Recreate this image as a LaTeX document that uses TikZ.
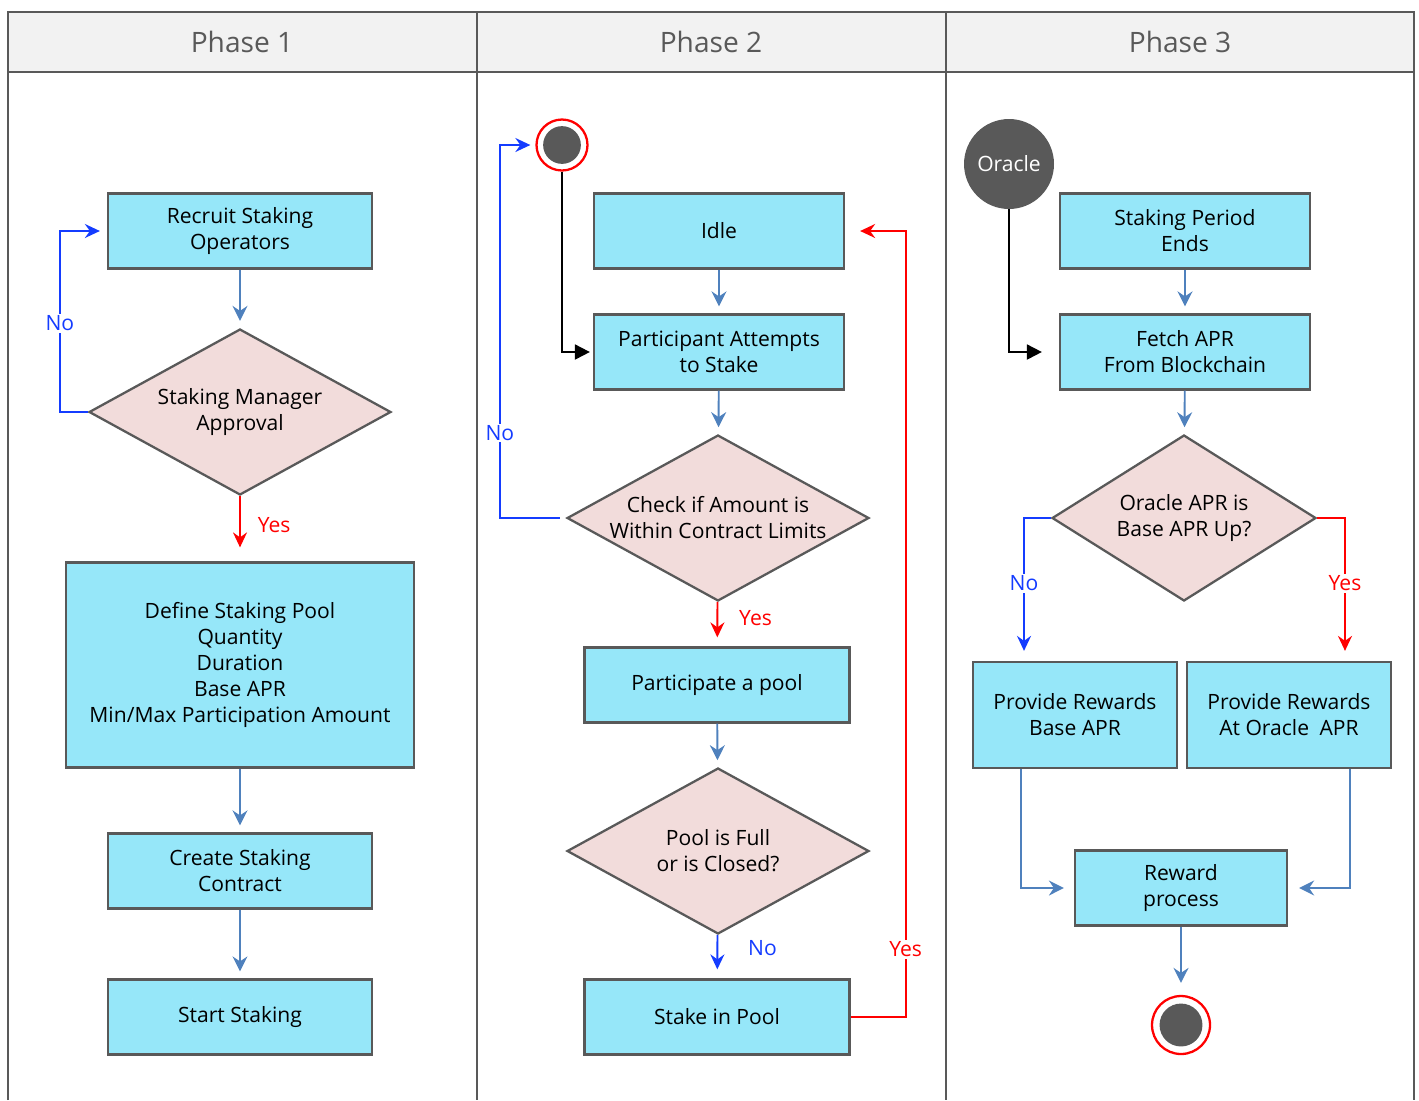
\documentclass[tikz,border=0pt]{standalone}
\usepackage{fontspec}
\setmainfont{Open Sans}
\usetikzlibrary{arrows.meta,shapes.geometric}

\definecolor{boxcyan}{RGB}{150,231,249}
\definecolor{decpink}{RGB}{242,220,219}
\definecolor{linegray}{RGB}{89,89,89}
\definecolor{headgray}{RGB}{242,242,242}
\definecolor{flowblue}{RGB}{79,129,189}
\definecolor{noblue}{RGB}{20,60,255}
\definecolor{yesred}{RGB}{255,0,0}

\tikzset{
	frame/.style={draw=linegray, line width=1.4pt},
	phase/.style={text=linegray, font=\fontsize{16}{19}\selectfont},
	box/.style={draw=linegray, fill=boxcyan, line width=1.3pt, align=center, inner sep=0pt, minimum height=1.5cm},
	decide/.style={diamond, draw=linegray, fill=decpink, line width=1.3pt, align=center, inner sep=0pt, aspect=1.82, minimum width=6.04cm, minimum height=3.32cm},
	flow/.style={draw=flowblue, line width=1.1pt, -{Stealth[length=0.3cm,width=0.3cm,inset=0.1cm]}, shorten >=0.14cm},
	noflow/.style={draw=noblue, line width=1.1pt, -{Stealth[length=0.3cm,width=0.28cm,inset=0.1cm]}},
	yesflow/.style={draw=yesred, line width=1.1pt, -{Stealth[length=0.3cm,width=0.28cm,inset=0.1cm]}},
	entry/.style={draw=black, line width=1.1pt, -{Triangle[length=0.3cm,width=0.3cm]}},
	nolbl/.style={text=noblue, fill=white, inner sep=1pt},
	yeslbl/.style={text=yesred, fill=white, inner sep=1pt},
	ring/.style={circle, draw=yesred, line width=1.3pt, fill=white, inner sep=0pt, minimum size=#1,
		path picture={\fill[linegray] (path picture bounding box.center) circle (0.37*#1);}},
	actor/.style={circle, fill=linegray, text=white, inner sep=0pt, minimum size=1.8cm},
}

\begin{document}
\begin{tikzpicture}[x=0.02cm, y=-0.02cm, font=\fontsize{12}{14.8}\selectfont]
		%%%%% START %%%%%
		\useasboundingbox (0,0) rectangle (1419,1100);
		
		% swimlanes
		\fill[headgray] (8,12) rectangle (1414,72);
		\draw[frame] (8,1100) -- (8,12) -- (1414,12) -- (1414,1100);
		\draw[frame] (8,72) -- (1414,72);
		\draw[frame] (477,12) -- (477,1100);
		\draw[frame] (946,12) -- (946,1100);
		\node[phase] (ph1) at (242,42) {Phase 1};
		\node[phase] (ph2) at (711,42) {Phase 2};
		\node[phase] (ph3) at (1180,42) {Phase 3};
		
		% phase 1
		\node[box, minimum width=5.28cm] (recruit) at (240,231) {Recruit Staking\\Operators};
		\node[decide] (approval) at (240,412) {Staking Manager\\Approval};
		\node[box, minimum width=6.96cm, minimum height=4.1cm] (define) at (240,665)
			{Define Staking Pool\\Quantity\\Duration\\Base APR\\Min/Max Participation Amount};
		\node[box, minimum width=5.28cm] (contract) at (240,871) {Create Staking\\Contract};
		\node[box, minimum width=5.28cm] (startstk) at (240,1017) {Start Staking};
		
		\draw[flow] (recruit) -- (approval);
		\draw[noflow, shorten >=0.14cm] (approval.west) -- ++(-28,0) |- node[nolbl, pos=0.245] {No} (recruit.west);
		\draw[yesflow, shorten >=0.28cm] (approval) -- node[text=yesred, right=0.22cm, pos=0.44] {Yes} (define);
		\draw[flow] (define) -- (contract);
		\draw[flow] (contract) -- (startstk);
		
		% phase 2
		\node[ring=1.02cm] (start) at (562,145) {};
		\node[box, minimum width=5cm] (idle) at (719,231) {Idle};
		\node[box, minimum width=5cm] (attempt) at (719,352) {Participant Attempts\\to Stake};
		\node[decide] (limits) at (718,518) {Check if Amount is\\Within Contract Limits};
		\node[box, minimum width=5.3cm] (pool) at (717,685) {Participate a pool};
		\node[decide] (full) at (718,851) {Pool is Full\\or is Closed?};
		\node[box, minimum width=5.3cm] (stake) at (717,1017) {Stake in Pool};
		
		\draw[entry, shorten >=0.06cm] (start.south) |- (attempt.west);
		\draw[flow] (idle) -- (attempt);
		\draw[flow] (attempt) -- (limits);
		\draw[noflow, shorten <=0.12cm, shorten >=0.1cm] (limits.west) -- ++(-66,0) |- node[nolbl, pos=0.114] {No} (start.west);
		\draw[yesflow, shorten >=0.18cm] (limits) -- node[text=yesred, right=0.3cm, pos=0.37] {Yes} (pool);
		\draw[flow] (pool) -- (full);
		\draw[noflow, shorten >=0.18cm] (full) -- node[text=noblue, right=0.48cm, pos=0.3] {No} (stake);
		\draw[yesflow, shorten >=0.3cm] (stake.east) -- ++(55,0) |- node[yeslbl, pos=0.043] {Yes} (idle.east);
		
		% phase 3
		\node[actor] (oracle) at (1009,164) {Oracle};
		\node[box, minimum width=5cm] (ends) at (1185,231) {Staking Period\\Ends};
		\node[box, minimum width=5cm] (fetch) at (1185,352) {Fetch APR\\From Blockchain};
		\node[decide, aspect=1.59, minimum width=5.28cm] (compare) at (1184,518) {Oracle APR is\\Base APR Up?};
		\node[box, minimum width=4.08cm, minimum height=2.12cm] (baseapr) at (1075,715) {Provide Rewards\\Base APR};
		\node[box, minimum width=4.08cm, minimum height=2.12cm] (oracleapr) at (1289,715) {Provide Rewards\\At Oracle\enspace APR};
		\node[box, minimum width=4.24cm] (reward) at (1181,888) {Reward\\process};
		\node[ring=1.16cm] (finish) at (1181,1025) {};
		
		\draw[entry, shorten >=0.34cm] (oracle.south) |- (fetch.west);
		\draw[flow] (ends) -- (fetch);
		\draw[flow] (fetch) -- (compare);
		\draw[noflow, shorten >=0.2cm] (compare.west) -| node[nolbl, pos=0.729] {No} ([xshift=-1.02cm]baseapr.north);
		\draw[yesflow, shorten >=0.2cm] (compare.east) -| node[yeslbl, pos=0.729] {Yes} ([xshift=1.12cm]oracleapr.north);
		\draw[flow, shorten >=0.2cm] ([xshift=-1.08cm]baseapr.south) |- (reward.west);
		\draw[flow, shorten >=0.22cm] ([xshift=1.22cm]oracleapr.south) |- (reward.east);
		\draw[flow, shorten >=0.24cm] (reward) -- (finish);
		
		%%%%% END %%%%%
\end{tikzpicture}
\end{document}
